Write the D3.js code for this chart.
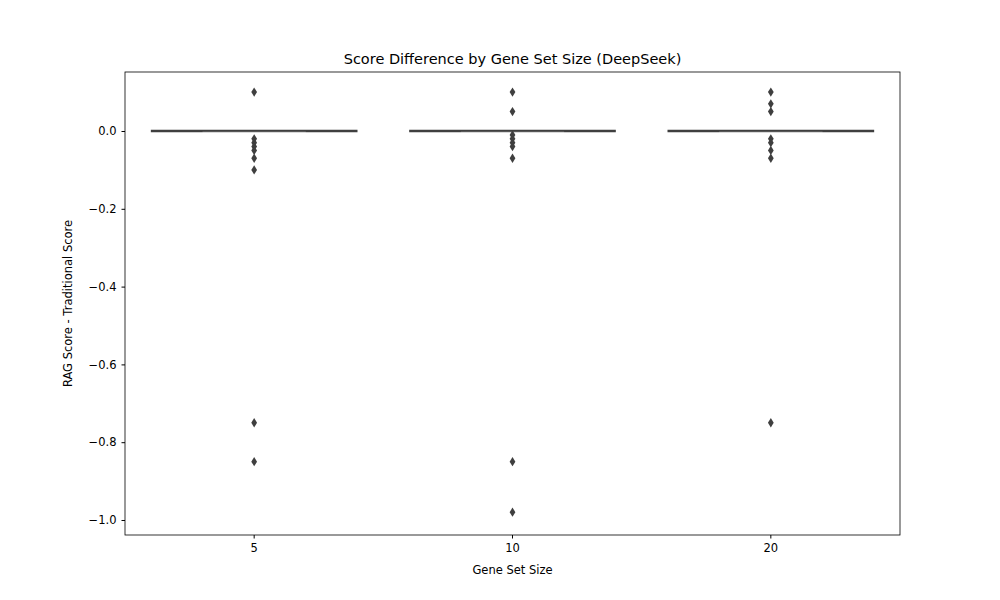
<!DOCTYPE html><html><head><meta charset="utf-8"><script src="https://cdn.jsdelivr.net/npm/d3@7"></script>
<style>body{margin:0;background:#fff}text{font-family:"DejaVu Sans",sans-serif}</style></head><body><svg id="c" width="1000" height="600"></svg>
<script>
const categories=["5","10","20"];
const medians=[0,0,0];
const outliers5=[0.1,-0.02,-0.03,-0.04,-0.05,-0.07,-0.1,-0.75,-0.85];
const outliers10=[0.1,0.05,-0.01,-0.02,-0.03,-0.04,-0.07,-0.85,-0.98];
const outliers20=[0.1,0.07,0.05,-0.02,-0.03,-0.05,-0.07,-0.75];
const outliers=[outliers5,outliers10,outliers20];
const yTicks=[0.0,-0.2,-0.4,-0.6,-0.8,-1.0];
const svg=d3.select("#c");
const L=125,R=900,T=72,B=535;
const x=d3.scaleBand().domain(categories).range([L,R]).padding(0);
const y=d3.scaleLinear().domain([-1.0386,0.1517]).range([B,T]);
const g=svg.append("g");
categories.forEach((c,i)=>{
  const x0=x(c)+x.bandwidth()*0.1,x1=x(c)+x.bandwidth()*0.9,cx=x(c)+x.bandwidth()/2;
  g.append("line").attr("x1",x0).attr("x2",x1).attr("y1",y(medians[i])).attr("y2",y(medians[i])).attr("stroke","#3f3f3f").attr("stroke-width",2.5);
  g.append("line").attr("x1",cx-x.bandwidth()*0.2).attr("x2",cx+x.bandwidth()*0.2).attr("y1",y(medians[i])+1.3).attr("y2",y(medians[i])+1.3).attr("stroke","#e0e0e0").attr("stroke-width",0.8);
  outliers[i].forEach(v=>{
    g.append("path").attr("d",d3.symbol(d3.symbolDiamond2,50)()).attr("transform",`translate(${cx},${y(v)}) scale(0.65,1.05)`).attr("fill","#3f3f3f");
  });
});
const fmt=d=>d3.format(".1f")(d).replace("-","\u2212");
svg.append("g").attr("transform",`translate(0,${B})`).call(d3.axisBottom(x).tickSize(3.5).tickPadding(5)).call(a=>{a.selectAll("text").attr("font-size",11.5).attr("fill","#000")});
svg.append("g").attr("transform",`translate(${L},0)`).call(d3.axisLeft(y).tickValues(yTicks).tickFormat(fmt).tickSize(3.5).tickPadding(5)).call(a=>{a.selectAll("text").attr("font-size",11.5).attr("fill","#000")});
svg.selectAll(".domain").remove();
svg.append("rect").attr("x",L).attr("y",T).attr("width",R-L).attr("height",B-T).attr("fill","none").attr("stroke","#000").attr("stroke-width",0.8);
svg.append("text").attr("x",(L+R)/2).attr("y",64).attr("text-anchor","middle").attr("font-size",14.5).text("Score Difference by Gene Set Size (DeepSeek)");
svg.append("text").attr("x",(L+R)/2).attr("y",574).attr("text-anchor","middle").attr("font-size",11.5).text("Gene Set Size");
svg.append("text").attr("transform",`translate(72,${(T+B)/2}) rotate(-90)`).attr("text-anchor","middle").attr("font-size",11.5).text("RAG Score - Traditional Score");
</script></body></html>
